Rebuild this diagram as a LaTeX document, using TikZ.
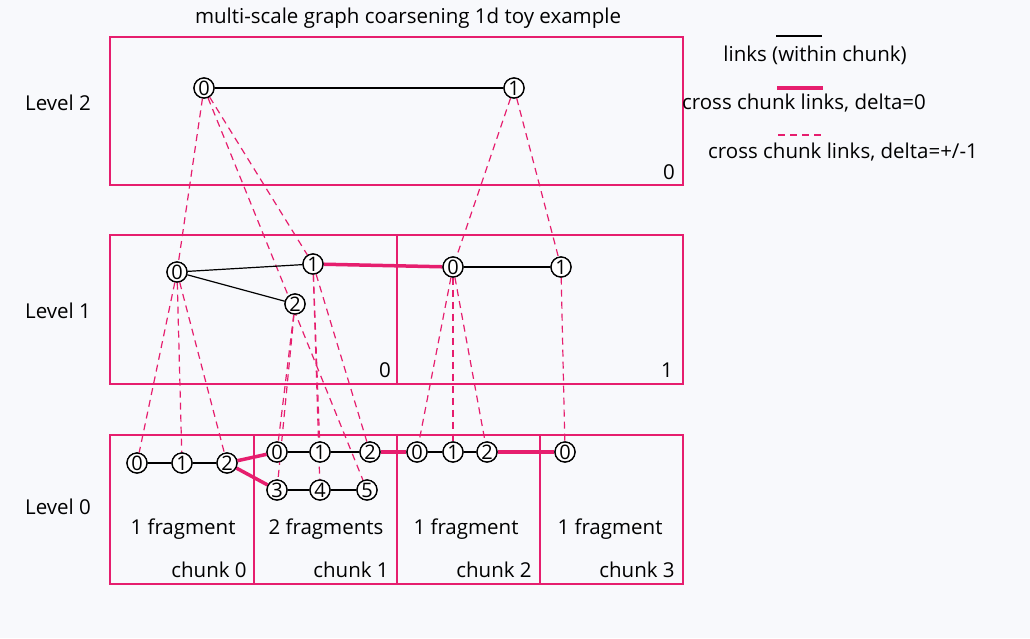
\documentclass[tikz,border=0pt]{standalone}
\usepackage{fontspec}
\setmainfont{Open Sans}
\definecolor{magenta}{RGB}{230,30,110}
\definecolor{bgcol}{RGB}{248,249,252}
\begin{document}
\begin{tikzpicture}[x=1pt,y=-1pt,font=\fontsize{20.5}{22}\selectfont,
  chunk/.style={draw=magenta,line width=1.4pt},
  vtx/.style={circle,draw,line width=1.3pt,inner sep=0pt,minimum size=20pt,fill=white,font=\fontsize{20}{20}\selectfont},
  inlink/.style={draw=black,line width=1.2pt},
  xlink/.style={draw=magenta,line width=3.5pt},
  dlink/.style={draw=magenta,line width=1.2pt,dash pattern=on 7pt off 5pt}]
\fill[bgcol] (0,0) rectangle (1030,638);
\node at (408,18) {multi-scale graph coarsening 1d toy example};
% levels
\node (lv2) at (58,103) {Level 2};
\node (lv1) at (58,311) {Level 1};
\node (lv0) at (58,507) {Level 0};
% chunk boxes
\draw[chunk] (110,37) rectangle (683,185);
\draw[chunk] (110,235) rectangle (397,384);
\draw[chunk] (397,235) rectangle (683,384);
\foreach \a/\b in {110/254,254/397,397/540,540/683}
  \draw[chunk] (\a,435) rectangle (\b,584);
\node at (669,172) {0};
\node at (385,370) {0};
\node at (667,370) {1};
\foreach \c/\x/\t in {0/183/1 fragment,1/326/2 fragments,2/466/1 fragment,3/610/1 fragment}
  \node at (\x,529) {\t};
\foreach \c/\x in {0/209,1/351,2/494,3/637}
  \node at (\x,570) {chunk \c};
% nodes
\node[vtx] (a0) at (204,88) {0};
\node[vtx] (a1) at (514,88) {1};
\node[vtx] (b0) at (177,272) {0};
\node[vtx] (b1) at (313,264) {1};
\node[vtx] (b2) at (295,304) {2};
\node[vtx] (c0) at (453,267) {0};
\node[vtx] (c1) at (561,267) {1};
\node[vtx] (p0) at (137,463) {0};
\node[vtx] (p1) at (182,463) {1};
\node[vtx] (p2) at (227,463) {2};
\node[vtx] (q0) at (277,452) {0};
\node[vtx] (q1) at (320,452) {1};
\node[vtx] (q2) at (370,452) {2};
\node[vtx] (q3) at (277,490) {3};
\node[vtx] (q4) at (320,490) {4};
\node[vtx] (q5) at (367,490) {5};
\node[vtx] (r0) at (417,452) {0};
\node[vtx] (r1) at (453,452) {1};
\node[vtx] (r2) at (487,452) {2};
\node[vtx] (s0) at (565,452) {0};
% dashed links between levels
\foreach \u/\v in {a0/b0,a0/b1,a0/q5,a1/c0,a1/c1,b0/p0,b0/p1,b0/p2,b1/q1,b1/q2,b1/q4,b2/q0,b2/q3,c0/r0,c0/r1,c0/r2,c1/s0}
  \draw[dlink] (\u) -- (\v);
% links within chunk
\foreach \u/\v in {a0/a1,b0/b1,b0/b2,c0/c1,p0/p1,p1/p2,q0/q1,q1/q2,q3/q4,q4/q5,r0/r1,r1/r2}
  \draw[inlink] (\u) -- (\v);
% cross chunk links
\foreach \u/\v in {b1/c0,p2/q0,p2/q3,q2/r0,r2/s0}
  \draw[xlink] (\u) -- (\v);
% redraw nodes on top
\foreach \n in {a0,a1,b0,b1,b2,c0,c1,p0,p1,p2,q0,q1,q2,q3,q4,q5,r0,r1,r2,s0}
  \draw[line width=1.3pt,fill=white] (\n) circle (10pt);
\foreach \n/\t in {a0/0,a1/1,b0/0,b1/1,b2/2,c0/0,c1/1,p0/0,p1/1,p2/2,q0/0,q1/1,q2/2,q3/3,q4/4,q5/5,r0/0,r1/1,r2/2,s0/0}
  \node[font=\fontsize{20}{20}\selectfont] at (\n) {\t};
% legend
\coordinate (k1a) at (776,36); \coordinate (k1b) at (822,36);
\coordinate (k2a) at (777,88); \coordinate (k2b) at (823,88);
\coordinate (k3a) at (778,135); \coordinate (k3b) at (822,135);
\draw[inlink] (k1a) -- (k1b);
\draw[xlink] (k2a) -- (k2b);
\draw[dlink] (k3a) -- (k3b);
\node at (815,55) {links (within chunk)};
\node at (804,103) {cross chunk links, delta=0};
\node at (843,152) {cross chunk links, delta=+/-1};
\end{tikzpicture}
\end{document}
